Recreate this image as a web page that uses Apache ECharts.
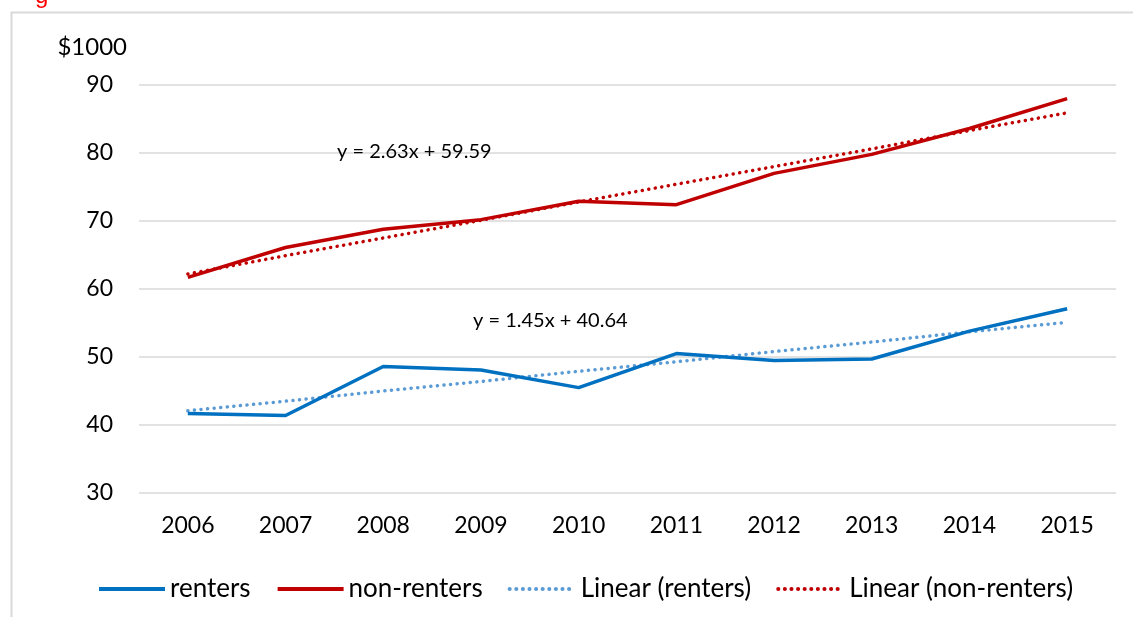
<!DOCTYPE html>
<html>
<head>
<meta charset="utf-8">
<script src="https://cdn.jsdelivr.net/npm/echarts@6/dist/echarts.min.js"></script>
<style>
  html, body { margin: 0; padding: 0; background: #fff; }
  #view { width: 1133px; height: 617px; }
</style>
</head>
<body>
<div id="view"></div>
<script>
var years = ['2006', '2007', '2008', '2009', '2010', '2011', '2012', '2013', '2014', '2015'];
var renters = [41.7, 41.4, 48.6, 48.1, 45.5, 50.5, 49.5, 49.7, 53.8, 57.1];
var nonRenters = [61.7, 66.1, 68.8, 70.2, 72.9, 72.4, 77.0, 79.8, 83.6, 88.0];
// trendline values as drawn (y = 1.45x + 40.64 and y = 2.63x + 59.59)
var rentersTrend = [42.1, 43.5, 45.0, 46.4, 47.9, 49.3, 50.8, 52.2, 53.7, 55.1];
var nonRentersTrend = [62.2, 64.9, 67.5, 70.1, 72.8, 75.4, 78.0, 80.6, 83.3, 85.9];
var yTicks = [30, 40, 50, 60, 70, 80, 90];

var font = 'Lato';
var chart = echarts.init(document.getElementById('view'));

var dots = [0.1, 6.5];

chart.setOption({
    animation: false,
    textStyle: {fontFamily: font},
    grid: {left: 139, right: 17, top: 85, bottom: 124},
    legend: {
        left: 92, top: 571,
        itemWidth: 66, itemHeight: 14, itemGap: 25,
        itemStyle: {opacity: 0},
        lineStyle: {width: 4},
        textStyle: {fontSize: 26, color: '#000', fontFamily: font},
        data: ['renters', 'non-renters', 'Linear (renters)', 'Linear (non-renters)']
    },
    xAxis: {
        type: 'category', data: years,
        axisLine: {show: false}, axisTick: {show: false},
        axisLabel: {fontSize: 23, color: '#000', margin: 21}
    },
    yAxis: {
        type: 'value', min: yTicks[0], max: yTicks[yTicks.length - 1], interval: 10,
        name: '$1000', nameLocation: 'end', nameGap: 38,
        nameTextStyle: {fontSize: 24, color: '#000', align: 'right', verticalAlign: 'middle', padding: [0, 12, 0, 0]},
        axisLine: {show: false}, axisTick: {show: false},
        axisLabel: {fontSize: 23, color: '#000', margin: 26},
        splitLine: {lineStyle: {color: '#d9d9d9', width: 1.5}}
    },
    series: [
        {name: 'renters', type: 'line', data: renters, symbol: 'none', z: 3,
         itemStyle: {color: '#0070c0'}, lineStyle: {color: '#0070c0', width: 3.5}},
        {name: 'non-renters', type: 'line', data: nonRenters, symbol: 'none', z: 3,
         itemStyle: {color: '#c00000'}, lineStyle: {color: '#c00000', width: 3.5}},
        {name: 'Linear (renters)', type: 'line', data: rentersTrend, symbol: 'none', z: 2,
         itemStyle: {color: '#5b9bd5'}, lineStyle: {color: '#5b9bd5', width: 3.5, type: dots, cap: 'round'}},
        {name: 'Linear (non-renters)', type: 'line', data: nonRentersTrend, symbol: 'none', z: 2,
         itemStyle: {color: '#c00000'}, lineStyle: {color: '#c00000', width: 3.5, type: dots, cap: 'round'}}
    ],
    graphic: [
        {type: 'rect', left: 9, top: 10, silent: true, z: -1,
         shape: {width: 1200, height: 700},
         style: {fill: 'none', stroke: '#d9d9d9', lineWidth: 2}},
        {type: 'text', left: 35, top: -16,
         style: {text: 'g', fill: '#ff0000', fontFamily: 'Liberation Sans', fontSize: 24}},
        {type: 'text', left: 337, top: 142, z: 10,
         style: {text: 'y = 2.63x + 59.59', fill: '#000', fontFamily: font, fontSize: 20}},
        {type: 'text', left: 473, top: 311, z: 10,
         style: {text: 'y = 1.45x + 40.64', fill: '#000', fontFamily: font, fontSize: 20}}
    ]
});
</script>
</body>
</html>
